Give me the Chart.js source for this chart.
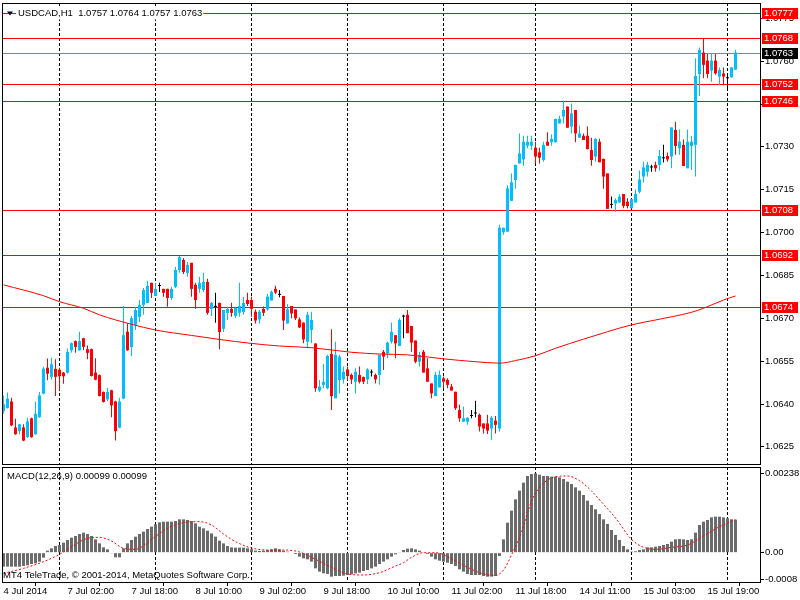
<!DOCTYPE html>
<html>
<head>
<meta charset="utf-8">
<script src="https://cdn.jsdelivr.net/npm/chart.js@4.4.1/dist/chart.umd.min.js"></script>
<style>
  html, body { margin: 0; padding: 0; background: #fff; }
  #wrap { position: relative; width: 800px; height: 600px; overflow: hidden; background: #fff; }
  canvas { position: absolute; left: 0; }
  #priceChart { top: 0; }
  #macdChart { top: 466px; }
</style>
</head>
<body>
<div id="wrap">
  <canvas id="priceChart" width="800" height="466"></canvas>
  <canvas id="macdChart" width="800" height="134"></canvas>
</div>
<script>
// USDCAD H1, one entry per bar (bar 0 = 4 Jul 09:00 ... bar 183 = 16 Jul 02:00)
const opens = [
  1.06375,1.06386,1.06409,1.06318,1.06305,1.06318,1.06284,1.06350,
  1.06294,1.06354,1.06436,1.06527,1.06495,1.06523,1.06520,1.06510,
  1.06509,1.06588,1.06620,1.06588,1.06630,1.06592,1.06592,1.06510,
  1.06501,1.06442,1.06416,1.06448,1.06409,1.06317,1.06419,1.06653,
  1.06599,1.06677,1.06705,1.06747,1.06754,1.06824,1.06778,1.06813,
  1.06803,1.06803,1.06771,1.06810,1.06869,1.06904,1.06859,1.06894,
  1.06817,1.06803,1.06799,1.06827,1.06733,1.06740,1.06754,1.06663,
  1.06719,1.06733,1.06708,1.06719,1.06722,1.06764,1.06764,1.06723,
  1.06696,1.06733,1.06731,1.06762,1.06803,1.06782,1.06778,1.06682,
  1.06743,1.06731,1.06696,1.06685,1.06618,1.06659,1.06612,1.06447,
  1.06467,1.06455,1.06575,1.06420,1.06484,1.06486,1.06521,1.06502,
  1.06478,1.06502,1.06494,1.06486,1.06510,1.06502,1.06502,1.06583,
  1.06577,1.06618,1.06641,1.06603,1.06706,1.06712,1.06673,1.06622,
  1.06548,1.06583,1.06525,1.06472,1.06428,1.06458,1.06490,1.06484,
  1.06461,1.06443,1.06379,1.06338,1.06338,1.06358,1.06367,1.06362,
  1.06332,1.06332,1.06314,1.06342,1.06314,1.07001,1.07003,1.07111,
  1.07184,1.07242,1.07256,1.07304,1.07304,1.07297,1.07281,1.07254,
  1.07318,1.07316,1.07316,1.07382,1.07406,1.07441,1.07371,1.07429,
  1.07332,1.07339,1.07339,1.07289,1.07266,1.07318,1.07258,1.07207,
  1.07097,1.07102,1.07105,1.07135,1.07108,1.07085,1.07105,1.07143,
  1.07196,1.07213,1.07228,1.07237,1.07237,1.07260,1.07268,1.07266,
  1.07359,1.07295,1.07307,1.07225,1.07303,1.07307,1.07555,1.07630,
  1.07602,1.07567,1.07602,1.07546,1.07557,1.07540,1.07543,1.07570
];
const highs = [
  1.06430,1.06440,1.06422,1.06348,1.06331,1.06329,1.06352,1.06352,
  1.06409,1.06442,1.06530,1.06559,1.06563,1.06557,1.06527,1.06512,
  1.06594,1.06615,1.06622,1.06653,1.06632,1.06605,1.06594,1.06560,
  1.06503,1.06444,1.06457,1.06450,1.06411,1.06422,1.06743,1.06682,
  1.06708,1.06740,1.06764,1.06806,1.06831,1.06824,1.06824,1.06824,
  1.06803,1.06803,1.06810,1.06880,1.06918,1.06911,1.06897,1.06894,
  1.06824,1.06845,1.06859,1.06838,1.06757,1.06789,1.06754,1.06729,
  1.06740,1.06754,1.06740,1.06824,1.06775,1.06789,1.06775,1.06731,
  1.06729,1.06741,1.06785,1.06797,1.06814,1.06799,1.06778,1.06750,
  1.06743,1.06731,1.06703,1.06685,1.06723,1.06723,1.06612,1.06484,
  1.06540,1.06572,1.06662,1.06618,1.06572,1.06531,1.06531,1.06507,
  1.06525,1.06531,1.06496,1.06525,1.06521,1.06507,1.06572,1.06589,
  1.06618,1.06685,1.06641,1.06700,1.06712,1.06729,1.06673,1.06622,
  1.06583,1.06589,1.06560,1.06472,1.06513,1.06517,1.06496,1.06490,
  1.06470,1.06443,1.06397,1.06391,1.06354,1.06379,1.06411,1.06367,
  1.06332,1.06362,1.06358,1.06358,1.07027,1.07017,1.07166,1.07207,
  1.07237,1.07347,1.07339,1.07339,1.07339,1.07318,1.07297,1.07318,
  1.07351,1.07344,1.07398,1.07409,1.07461,1.07441,1.07452,1.07429,
  1.07374,1.07347,1.07371,1.07332,1.07330,1.07328,1.07258,1.07207,
  1.07126,1.07120,1.07134,1.07135,1.07120,1.07117,1.07151,1.07217,
  1.07248,1.07248,1.07237,1.07248,1.07289,1.07307,1.07280,1.07368,
  1.07388,1.07361,1.07326,1.07361,1.07338,1.07610,1.07648,1.07680,
  1.07625,1.07625,1.07625,1.07578,1.07578,1.07557,1.07578,1.07640
];
const lows = [
  1.06366,1.06384,1.06323,1.06292,1.06294,1.06270,1.06282,1.06282,
  1.06292,1.06352,1.06434,1.06483,1.06485,1.06428,1.06446,1.06471,
  1.06507,1.06579,1.06579,1.06586,1.06588,1.06557,1.06496,1.06483,
  1.06426,1.06405,1.06410,1.06354,1.06272,1.06315,1.06417,1.06586,
  1.06568,1.06659,1.06687,1.06712,1.06754,1.06771,1.06778,1.06792,
  1.06775,1.06740,1.06764,1.06806,1.06859,1.06855,1.06845,1.06775,
  1.06733,1.06789,1.06792,1.06712,1.06708,1.06684,1.06592,1.06652,
  1.06694,1.06705,1.06701,1.06705,1.06712,1.06743,1.06705,1.06682,
  1.06682,1.06708,1.06726,1.06762,1.06785,1.06774,1.06659,1.06682,
  1.06700,1.06694,1.06666,1.06613,1.06595,1.06613,1.06443,1.06442,
  1.06455,1.06452,1.06379,1.06420,1.06437,1.06472,1.06484,1.06470,
  1.06437,1.06472,1.06470,1.06470,1.06496,1.06472,1.06467,1.06519,
  1.06560,1.06612,1.06560,1.06603,1.06630,1.06648,1.06583,1.06543,
  1.06531,1.06510,1.06478,1.06420,1.06428,1.06458,1.06455,1.06455,
  1.06447,1.06379,1.06338,1.06338,1.06327,1.06350,1.06354,1.06304,
  1.06297,1.06295,1.06274,1.06297,1.06304,1.06992,1.07003,1.07111,
  1.07153,1.07242,1.07234,1.07295,1.07289,1.07242,1.07242,1.07248,
  1.07304,1.07304,1.07316,1.07382,1.07382,1.07367,1.07347,1.07316,
  1.07332,1.07324,1.07292,1.07234,1.07248,1.07246,1.07153,1.07083,
  1.07085,1.07073,1.07105,1.07085,1.07085,1.07085,1.07105,1.07137,
  1.07175,1.07196,1.07213,1.07213,1.07217,1.07245,1.07248,1.07225,
  1.07272,1.07272,1.07233,1.07225,1.07219,1.07196,1.07478,1.07540,
  1.07540,1.07528,1.07552,1.07516,1.07516,1.07505,1.07543,1.07570
];
const closes = [
  1.06399,1.06419,1.06325,1.06294,1.06329,1.06272,1.06339,1.06284,
  1.06366,1.06430,1.06524,1.06506,1.06539,1.06495,1.06497,1.06497,
  1.06582,1.06613,1.06600,1.06620,1.06600,1.06579,1.06498,1.06485,
  1.06428,1.06407,1.06442,1.06395,1.06305,1.06409,1.06641,1.06588,
  1.06700,1.06729,1.06747,1.06799,1.06813,1.06789,1.06803,1.06813,
  1.06789,1.06771,1.06803,1.06869,1.06914,1.06862,1.06887,1.06803,
  1.06764,1.06824,1.06827,1.06719,1.06754,1.06740,1.06652,1.06729,
  1.06733,1.06719,1.06736,1.06743,1.06754,1.06750,1.06733,1.06692,
  1.06723,1.06719,1.06776,1.06793,1.06790,1.06782,1.06692,1.06731,
  1.06717,1.06700,1.06668,1.06626,1.06712,1.06694,1.06455,1.06461,
  1.06478,1.06568,1.06428,1.06572,1.06566,1.06513,1.06498,1.06486,
  1.06513,1.06478,1.06478,1.06521,1.06510,1.06486,1.06572,1.06566,
  1.06615,1.06653,1.06612,1.06694,1.06706,1.06648,1.06615,1.06548,
  1.06572,1.06510,1.06478,1.06437,1.06502,1.06502,1.06478,1.06467,
  1.06447,1.06385,1.06350,1.06350,1.06352,1.06358,1.06367,1.06321,
  1.06314,1.06307,1.06352,1.06327,1.07017,1.07017,1.07155,1.07176,
  1.07237,1.07277,1.07318,1.07318,1.07318,1.07266,1.07262,1.07307,
  1.07304,1.07328,1.07398,1.07398,1.07429,1.07367,1.07417,1.07347,
  1.07347,1.07324,1.07292,1.07254,1.07328,1.07246,1.07196,1.07083,
  1.07097,1.07114,1.07126,1.07093,1.07093,1.07117,1.07135,1.07186,
  1.07228,1.07237,1.07228,1.07225,1.07268,1.07260,1.07256,1.07368,
  1.07303,1.07318,1.07233,1.07318,1.07318,1.07548,1.07639,1.07587,
  1.07555,1.07602,1.07557,1.07569,1.07546,1.07540,1.07578,1.07630
];

// moving average, read at these bars
const maBars = [0,10,14,20,24,32,38,47,54,62,69,77,87,94,101,110,118,124,128,133,138,145,151,157,163,172,175,180,183];
const maValues = [1.06817,1.06779,1.06758,1.06735,1.06712,1.06679,1.06659,1.06640,1.06626,1.06612,1.06603,1.06597,1.06581,1.06575,1.06572,1.06558,1.06548,1.06543,1.06552,1.06569,1.06595,1.06627,1.06653,1.06677,1.06694,1.06721,1.06735,1.06764,1.06778];

// MACD(12,26,9) main, one per bar
const macdMain = [
  -0.00042,-0.00042,-0.00042,-0.00042,-0.00042,-0.00040,-0.00038,-0.00034,
  -0.00032,-0.00027,-0.00015,0.00006,0.00013,0.00020,0.00023,0.00030,
  0.00038,0.00045,0.00050,0.00056,0.00060,0.00056,0.00050,0.00040,
  0.00028,0.00016,0.00010,-0.00002,-0.00014,-0.00014,0.00013,0.00028,
  0.00038,0.00048,0.00056,0.00063,0.00071,0.00078,0.00085,0.00091,
  0.00093,0.00093,0.00093,0.00095,0.00100,0.00100,0.00098,0.00095,
  0.00088,0.00078,0.00073,0.00066,0.00058,0.00048,0.00036,0.00028,
  0.00020,0.00016,0.00015,0.00015,0.00015,0.00013,0.00010,0.00006,
  0.00005,0.00006,0.00008,0.00010,0.00013,0.00010,0.00006,0.00003,
  0.00000,-0.00004,-0.00012,-0.00017,-0.00020,-0.00027,-0.00047,-0.00057,
  -0.00062,-0.00064,-0.00072,-0.00070,-0.00070,-0.00069,-0.00067,-0.00065,
  -0.00062,-0.00060,-0.00055,-0.00052,-0.00047,-0.00042,-0.00034,-0.00027,
  -0.00020,-0.00012,-0.00005,0.00002,0.00008,0.00012,0.00013,0.00010,
  0.00006,0.00002,-0.00004,-0.00012,-0.00020,-0.00024,-0.00027,-0.00030,
  -0.00034,-0.00040,-0.00050,-0.00057,-0.00064,-0.00067,-0.00067,-0.00067,
  -0.00070,-0.00072,-0.00072,-0.00070,-0.00010,0.00040,0.00090,0.00126,
  0.00160,0.00186,0.00210,0.00230,0.00236,0.00238,0.00234,0.00230,
  0.00230,0.00228,0.00228,0.00226,0.00221,0.00213,0.00206,0.00196,
  0.00186,0.00173,0.00156,0.00143,0.00130,0.00116,0.00100,0.00086,
  0.00068,0.00053,0.00038,0.00020,0.00010,0.00003,0.00004,0.00008,
  0.00010,0.00016,0.00016,0.00018,0.00020,0.00023,0.00026,0.00033,
  0.00040,0.00041,0.00040,0.00038,0.00040,0.00060,0.00083,0.00093,
  0.00098,0.00106,0.00108,0.00108,0.00106,0.00103,0.00100,0.00099
];
// signal line, read at these bars
const sigBars = [0,5,10,14,17,21,24,27,30,33,37,41,45,49,52,55,58,62,66,70,74,78,82,86,90,94,98,100,102,105,108,112,116,120,123,125,127,130,132,134,136,138,141,144,147,150,153,157,160,163,167,171,175,179,183];
const sigValues = [-0.00062,-0.00047,-0.00027,-0.00005,0.00018,0.00043,0.00046,0.00035,0.00013,0.00010,0.00040,0.00073,0.00090,0.00093,0.00083,0.00056,0.00033,0.00014,0.00008,0.00008,0.00002,-0.00020,-0.00044,-0.00064,-0.00067,-0.00060,-0.00040,-0.00030,-0.00014,0.00000,0.00000,-0.00018,-0.00044,-0.00064,-0.00068,-0.00052,-0.00007,0.00078,0.00155,0.00195,0.00218,0.00228,0.00230,0.00216,0.00185,0.00145,0.00104,0.00040,0.00016,0.00010,0.00016,0.00023,0.00050,0.00078,0.00099];

const priceTicks = [1.0775,1.0760,1.0745,1.0730,1.0715,1.0700,1.0685,1.0670,1.0655,1.0640,1.0625];
const levels = [1.0777,1.0768,1.0752,1.0746,1.0708,1.0692,1.0674];
const bidPrice = 1.0763;
const macdTicks = [0.00238, 0, -0.0008];
const macdTickText = ['0.00238', '0.00', '-0.0008'];
const timeTickBars = [0,16,32,48,64,80,96,112,128,144,160,176];
const timeLabels = ['4 Jul 2014','7 Jul 02:00','7 Jul 18:00','8 Jul 10:00','9 Jul 02:00','9 Jul 18:00',
                    '10 Jul 10:00','11 Jul 02:00','11 Jul 18:00','14 Jul 11:00','15 Jul 03:00','15 Jul 19:00'];
const daySepBars = [14,38,62,86,110,133,157,181];

const FONT = 'Tahoma, "Liberation Sans", Arial, sans-serif';
const FSIZE = 9.5;
const BULL = '#00BFFF', BEAR = '#FF0000', DOJI = '#000000';
const X_MIN = -0.375, X_MAX = 189.125;

const candleColors = opens.map((o, i) => closes[i] > o ? BULL : (closes[i] < o ? BEAR : DOJI));

// keep chart.js from shrinking the plot for half-labels at the ends
function fitRight(s) {
    s.width = 40;
    s.paddingTop = 0;
    s.paddingBottom = 0;
}
function fitBottom(s) {
    s.height = 17;
    s.paddingLeft = 0;
    s.paddingRight = 0;
}

function drawSeparators(chart) {
    const {ctx, chartArea: a, scales: {x}} = chart;
    ctx.save();
    ctx.strokeStyle = '#000';
    ctx.lineWidth = 1;
    ctx.setLineDash([3, 2]);
    daySepBars.forEach(b => {
        const px = Math.floor(x.getPixelForValue(b)) + 0.5;
        ctx.beginPath();
        ctx.moveTo(px, a.top);
        ctx.lineTo(px, a.bottom);
        ctx.stroke();
    });
    ctx.restore();
}

function drawFrame(chart) {
    const {ctx, chartArea: a} = chart;
    ctx.save();
    ctx.strokeStyle = '#000';
    ctx.lineWidth = 1;
    ctx.strokeRect(a.left + 0.5, a.top + 0.5, a.right - a.left, a.bottom - a.top - 1);
    ctx.restore();
}

const pricePanel = {
    id: 'pricePanel',
    beforeDatasetsDraw(chart) {
        const {ctx, chartArea: a, scales: {y}} = chart;
        drawSeparators(chart);
        ctx.save();
        ctx.lineWidth = 1;
        ctx.strokeStyle = '#FF0000';
        levels.forEach(v => {
            const py = Math.round(y.getPixelForValue(v)) + 0.5;
            ctx.beginPath(); ctx.moveTo(a.left, py); ctx.lineTo(a.right, py); ctx.stroke();
        });
        ctx.strokeStyle = '#778899';
        const pb = Math.round(y.getPixelForValue(bidPrice)) + 0.5;
        ctx.beginPath(); ctx.moveTo(a.left, pb); ctx.lineTo(a.right, pb); ctx.stroke();
        ctx.restore();
    },
    afterDraw(chart) {
        const {ctx, chartArea: a, scales: {y}} = chart;
        drawFrame(chart);
        ctx.save();
        ctx.font = FSIZE + 'px ' + FONT;
        ctx.textBaseline = 'middle';
        // price boxes on the axis
        const box = (v, bg) => {
            const py = Math.round(y.getPixelForValue(v));
            ctx.fillStyle = bg;
            ctx.fillRect(a.right + 2, py - 5, 36, 11);
            ctx.fillStyle = '#fff';
            ctx.fillText(v.toFixed(4), a.right + 4, py + 0.5);
        };
        levels.forEach(v => box(v, '#FF0000'));
        box(bidPrice, '#000');
        // title
        const last = opens.length - 1;
        const title = 'USDCAD,H1  ' + [opens[last], highs[last], lows[last], closes[last]].map(v => v.toFixed(4)).join(' ');
        const ty = Math.round(y.getPixelForValue(levels[0])) + 0.5;
        const w = ctx.measureText(title).width;
        ctx.fillStyle = '#fff';
        ctx.fillRect(16, ty - 6, w + 3, 12);
        ctx.fillStyle = '#000';
        ctx.fillText(title, 18, ty);
        ctx.beginPath();
        ctx.moveTo(7, ty - 2); ctx.lineTo(13, ty - 2); ctx.lineTo(10, ty + 2); ctx.closePath();
        ctx.fill();
        ctx.restore();
    }
};

const macdPanel = {
    id: 'macdPanel',
    beforeDatasetsDraw(chart) {
        drawSeparators(chart);
    },
    afterDraw(chart) {
        const {ctx} = chart;
        drawFrame(chart);
        ctx.save();
        ctx.font = FSIZE + 'px ' + FONT;
        ctx.textBaseline = 'middle';
        ctx.fillStyle = '#000';
        const last = macdMain.length - 1;
        ctx.fillText('MACD(12,26,9) ' + macdMain[last].toFixed(5) + ' ' + sigValues[sigValues.length - 1].toFixed(5), 7, 10);
        ctx.fillText('MT4 TeleTrade, \u00a9 2001-2014, MetaQuotes Software Corp.', 3, 109);
        ctx.restore();
    }
};

const tickFont = {family: FONT, size: FSIZE};

new Chart(document.getElementById('priceChart'), {
    type: 'bar',
    data: {
        datasets: [
            {
                type: 'line',
                data: maBars.map((b, k) => ({x: b, y: maValues[k]})),
                borderColor: '#FF0000',
                borderWidth: 1,
                pointRadius: 0,
                cubicInterpolationMode: 'monotone'
            },
            {
                data: opens.map((o, i) => ({x: i, y: [o, closes[i]]})),
                backgroundColor: candleColors,
                barThickness: 3,
                minBarLength: 1,
                inflateAmount: 0,
                grouped: false
            },
            {
                data: lows.map((l, i) => ({x: i, y: [l, highs[i]]})),
                backgroundColor: candleColors,
                barThickness: 1,
                inflateAmount: 0,
                grouped: false
            }
        ]
    },
    options: {
        responsive: false,
        animation: false,
        devicePixelRatio: 1,
        layout: {padding: {left: 2, top: 3, right: 0, bottom: 1}},
        plugins: {legend: {display: false}, tooltip: {enabled: false}},
        scales: {
            x: {type: 'linear', min: X_MIN, max: X_MAX, offset: false, display: false},
            y: {
                position: 'right',
                min: 1.061865,
                max: 1.078035,
                afterFit: fitRight,
                afterBuildTicks: s => { s.ticks = priceTicks.map(v => ({value: v})); },
                ticks: {callback: v => v.toFixed(4), color: '#000', font: tickFont, padding: 1, autoSkip: false},
                grid: {drawOnChartArea: false, drawTicks: true, tickLength: 4, color: '#000'},
                border: {display: false}
            }
        }
    },
    plugins: [pricePanel]
});

new Chart(document.getElementById('macdChart'), {
    type: 'bar',
    data: {
        datasets: [
            {
                type: 'line',
                data: sigBars.map((b, k) => ({x: b, y: sigValues[k]})),
                borderColor: '#FF0000',
                borderWidth: 1,
                borderDash: [2, 2],
                pointRadius: 0,
                cubicInterpolationMode: 'monotone'
            },
            {
                data: macdMain.map((v, i) => ({x: i, y: v})),
                backgroundColor: '#6B6B6B',
                barThickness: 3,
                inflateAmount: 0,
                grouped: false
            }
        ]
    },
    options: {
        responsive: false,
        animation: false,
        devicePixelRatio: 1,
        layout: {padding: {left: 2, top: 1, right: 0, bottom: 0}},
        plugins: {legend: {display: false}, tooltip: {enabled: false}},
        scales: {
            x: {
                type: 'linear', min: X_MIN, max: X_MAX, offset: false,
                afterFit: fitBottom,
                afterBuildTicks: s => { s.ticks = timeTickBars.map(v => ({value: v})); },
                ticks: {callback: (v, i) => timeLabels[i], align: 'start', maxRotation: 0, minRotation: 0,
                        autoSkip: false, padding: 0, color: '#000', font: tickFont},
                grid: {drawOnChartArea: false, drawTicks: true, tickLength: 3, color: '#000'},
                border: {display: false}
            },
            y: {
                position: 'right',
                min: -0.00091,
                max: 0.00257,
                afterFit: fitRight,
                afterBuildTicks: s => { s.ticks = macdTicks.map(v => ({value: v})); },
                ticks: {callback: (v, i) => macdTickText[i], color: '#000', font: tickFont, padding: 1, autoSkip: false},
                grid: {drawOnChartArea: false, drawTicks: true, tickLength: 4, color: '#000'},
                border: {display: false}
            }
        }
    },
    plugins: [macdPanel]
});
</script>
</body>
</html>
